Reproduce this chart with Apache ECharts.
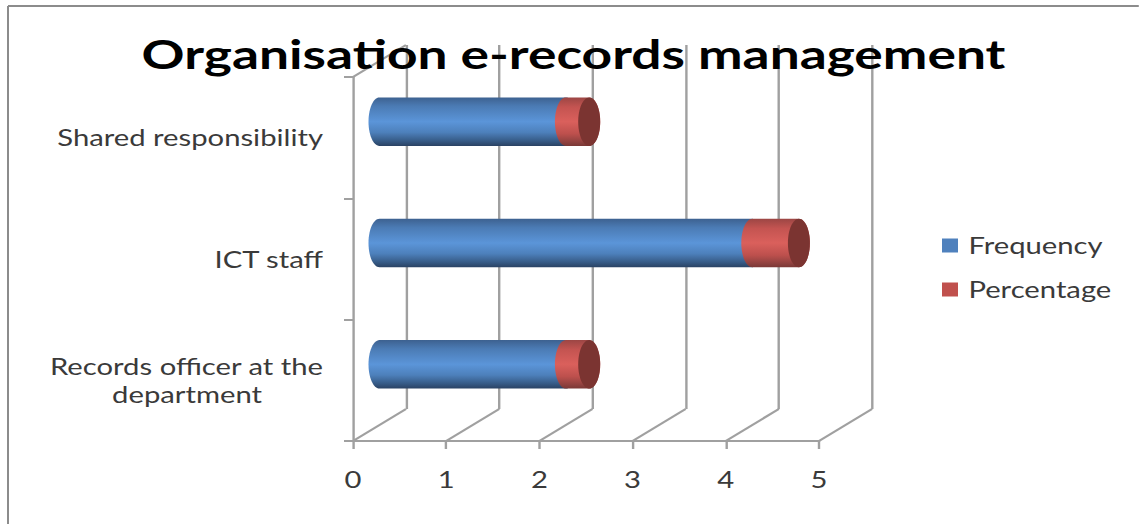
<!DOCTYPE html>
<html>
<head>
<meta charset="utf-8">
<script src="https://cdn.jsdelivr.net/npm/echarts@6/dist/echarts.min.js"></script>
<style>
html,body{margin:0;padding:0;background:#fff;overflow:hidden}
#chart{height:524px;transform-origin:0 0}
</style>
</head>
<body>
<div id="chart"></div>
<script>
const chartTitle = 'Organisation e-records management';
const categories = ['Records officer at the\ndepartment', 'ICT staff', 'Shared responsibility'];
const frequency = [2, 4, 2];
const percentage = [0.25, 0.5, 0.25];
const xTicks = [0, 1, 2, 3, 4, 5];

// The figure is laid out narrow and widened as a whole, which gives its text the wide set.
const STRETCH = 1.3;
const sx = px => px / STRETCH;
const box = document.getElementById('chart');
box.style.width = sx(1139) + 'px';
box.style.transform = 'scaleX(' + STRETCH + ')';

// Plot planes of the pseudo-3D box: front face, bar plane, back wall.
const PLOT_W = sx(466), PLOT_H = 364;
const FRONT = { left: sx(353), top: 77 };
const DEPTH = { x: sx(53), y: -32 };
const MID = { left: FRONT.left + DEPTH.x / 2, top: FRONT.top + DEPTH.y / 2 };
const BACK = { left: FRONT.left + DEPTH.x, top: FRONT.top + DEPTH.y };
const GRID_COLOR = '#a0a0a0';
const TEXT_COLOR = '#3a3a3a';
const LABEL_FONT = 'Lato';
const LABEL_SIZE = 22.5;
const LINE_V = sx(2.4);

const rad = sx(11);
const blueFill = [[0, '#3d6190'], [0.18, '#4b7bb4'], [0.5, '#5b95d9'], [0.72, '#4d80bb'], [0.9, '#365a85'], [1, '#2a4263']];
const redFill = [[0, '#9c4644'], [0.2, '#c45451'], [0.5, '#da605c'], [0.75, '#bd504d'], [0.92, '#8f413f'], [1, '#7a3836']];

function arcPoints(cx, cy, ry, from, to) {
  const pts = [];
  const steps = 28;
  for (let i = 0; i <= steps; i++) {
    const t = from + (to - from) * i / steps;
    pts.push([cx + rad * Math.cos(t), cy + ry * Math.sin(t)]);
  }
  return pts;
}

// Cylinder segment between two values, optionally closed with a dark end cap.
function cylinder(stops, withCap) {
  return function (params, api) {
    const start = api.coord([api.value(0), api.value(2)]);
    const end = api.coord([api.value(1), api.value(2)]);
    const ry = api.size([0, 1])[1] * 0.2;
    const cy = start[1];
    const left = arcPoints(start[0], cy, ry, Math.PI * 1.5, Math.PI * 0.5);
    const right = arcPoints(end[0], cy, ry, Math.PI * 0.5, -Math.PI * 0.5);
    const children = [{
      type: 'polygon',
      shape: { points: left.concat(right) },
      style: { fill: new echarts.graphic.LinearGradient(0, 0, 0, 1, stops.map(s => ({ offset: s[0], color: s[1] }))) }
    }];
    if (withCap) {
      children.push({
        type: 'ellipse',
        shape: { cx: end[0], cy: cy, rx: rad, ry: ry },
        style: { fill: '#7b3431' }
      });
    }
    return { type: 'group', children };
  };
}

// Receding floor and wall edges, drawn from the front plane towards the back wall.
function depthEdge(params, api) {
  const from = api.coord([api.value(0), api.value(1)]);
  return {
    type: 'line',
    shape: { x1: from[0], y1: from[1], x2: from[0] + DEPTH.x, y2: from[1] + DEPTH.y },
    style: { stroke: GRID_COLOR, lineWidth: 2 }
  };
}

const freqRows = categories.map((c, i) => [0, frequency[i], i]);
const pctRows = categories.map((c, i) => [frequency[i], frequency[i] + percentage[i], i]);
const edgeRows = xTicks.map(v => [v, 0]).concat([[0, 1]]);

const chart = echarts.init(box, null, { renderer: 'svg' });
chart.setOption({
  animation: false,
  backgroundColor: '#ffffff',
  title: {
    text: chartTitle,
    left: sx(567), top: 28, z: 20,
    textAlign: 'center',
    textStyle: { fontFamily: 'Lato', fontWeight: 'bold', fontSize: 41, color: '#000000' }
  },
  legend: {
    left: sx(942) - 5, top: 229, orient: 'vertical',
    itemWidth: sx(16), itemHeight: 14, itemGap: 21,
    icon: 'rect',
    textStyle: { fontFamily: LABEL_FONT, fontSize: LABEL_SIZE, color: TEXT_COLOR, padding: [0, 0, 0, 3] },
    data: ['Frequency', 'Percentage']
  },
  grid: [
    { left: FRONT.left, top: FRONT.top, width: PLOT_W, height: PLOT_H },
    { left: MID.left, top: MID.top, width: PLOT_W, height: PLOT_H },
    { left: BACK.left, top: BACK.top, width: PLOT_W, height: PLOT_H }
  ],
  xAxis: [
    {
      gridIndex: 0, type: 'value', min: 0, max: 5, interval: 1,
      axisLine: { show: true, lineStyle: { color: GRID_COLOR, width: 2 } },
      axisTick: { show: true, length: 8, lineStyle: { color: GRID_COLOR, width: LINE_V } },
      axisLabel: { margin: 27, fontFamily: LABEL_FONT, fontSize: LABEL_SIZE, color: TEXT_COLOR },
      splitLine: { show: false }
    },
    { gridIndex: 1, type: 'value', min: 0, max: 5, interval: 1, show: false },
    {
      gridIndex: 2, type: 'value', min: 0, max: 5, interval: 1,
      axisLine: { show: false }, axisTick: { show: false }, axisLabel: { show: false },
      splitLine: { show: true, lineStyle: { color: GRID_COLOR, width: LINE_V } }
    }
  ],
  yAxis: [
    {
      gridIndex: 0, type: 'category', data: categories,
      axisLine: { show: true, onZero: false, lineStyle: { color: GRID_COLOR, width: LINE_V } },
      axisTick: { show: true, length: sx(9), lineStyle: { color: GRID_COLOR, width: 2 } },
      axisLabel: {
        margin: sx(30), fontFamily: LABEL_FONT, fontSize: LABEL_SIZE, color: TEXT_COLOR, lineHeight: 28,
        formatter: function (v) {
          const parts = v.split('\n');
          return parts.length > 1 ? parts[0] + '\n{tail|' + parts[1] + '}' : v;
        },
        rich: { tail: { fontFamily: LABEL_FONT, fontSize: LABEL_SIZE, color: TEXT_COLOR, padding: [0, sx(61), 0, 0] } }
      }
    },
    { gridIndex: 1, type: 'category', data: categories, show: false },
    { gridIndex: 2, type: 'category', data: categories, show: false },
    // Unit height of the front face, used to place the depth edges.
    { gridIndex: 0, type: 'value', min: 0, max: 1, show: false }
  ],
  series: [
    {
      type: 'custom', name: 'edges', xAxisIndex: 0, yAxisIndex: 3, silent: true,
      encode: { x: 0, y: 1 }, data: edgeRows,
      renderItem: depthEdge, z: 1
    },
    {
      type: 'custom', name: 'Frequency', xAxisIndex: 1, yAxisIndex: 1,
      itemStyle: { color: '#4f81bd' },
      encode: { x: [0, 1], y: 2 }, data: freqRows,
      renderItem: cylinder(blueFill, false), z: 3
    },
    {
      type: 'custom', name: 'Percentage', xAxisIndex: 1, yAxisIndex: 1,
      itemStyle: { color: '#c0504d' },
      encode: { x: [0, 1], y: 2 }, data: pctRows,
      renderItem: cylinder(redFill, true), z: 4
    },
    // Empty series keeps the back-wall grid's axes bound to a series.
    { type: 'custom', name: 'wallGrid', xAxisIndex: 2, yAxisIndex: 2, data: [], renderItem: function () { return null; } }
  ],
  // Outer chart frame: only its top and left edges fall inside the figure.
  graphic: [
    { type: 'line', silent: true, shape: { x1: sx(8), y1: 6, x2: sx(1139), y2: 6 }, style: { stroke: '#8c8c8c', lineWidth: 2 } },
    { type: 'line', silent: true, shape: { x1: sx(8), y1: 6, x2: sx(8), y2: 524 }, style: { stroke: '#8c8c8c', lineWidth: sx(2) } }
  ]
});
</script>
</body>
</html>
